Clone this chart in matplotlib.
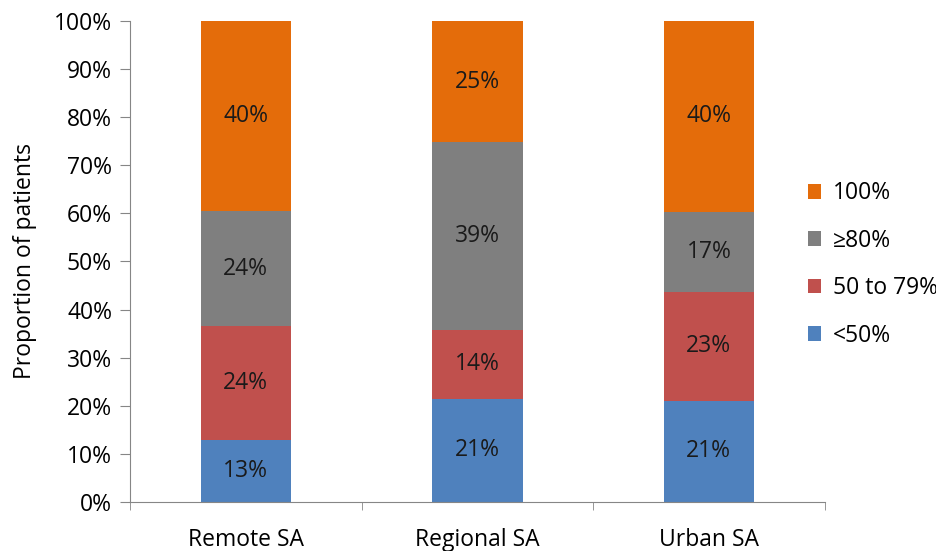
import numpy as np
import matplotlib.pyplot as plt
from matplotlib.patches import Patch

# Dados (percentual de pacientes)
categorias = ['Remote SA', 'Regional SA', 'Urban SA']
grupos = ['<50%', '50 to 79%', '\u226580%', '100%']
menor_50 = [12.9, 21.4, 21.0]
de_50_a_79 = [23.6, 14.4, 22.7]
maior_80 = [23.9, 39.0, 16.6]
cem = [39.6, 25.2, 39.7]
rotulos = [
    [13, 21, 21],
    [24, 14, 23],
    [24, 39, 17],
    [40, 25, 40],
]
cores = ['#4F81BD', '#C0504D', '#7F7F7F', '#E46C0A']

plt.rcParams['font.family'] = ['Open Sans', 'DejaVu Sans']
FS = 16.5

fig = plt.figure(figsize=(9.36, 5.51), dpi=100)
ax = fig.add_axes([0.139, 0.089, 0.742, 0.873])

x = np.arange(len(categorias))
base = np.zeros(len(categorias))
series = [menor_50, de_50_a_79, maior_80, cem]
for vals, cor, rot in zip(series, cores, rotulos):
    vals = np.array(vals)
    ax.bar(x, vals, bottom=base, width=0.39, color=cor, edgecolor='none')
    for xi, b, v, r in zip(x, base, vals, rot):
        ax.text(xi, b + v / 2, f'{r}%', ha='center', va='center', fontsize=FS, color='#1a1a1a')
    base = base + vals

ax.set_xlim(-0.5, 2.5)
ax.set_ylim(0, 100)
ax.set_yticks(np.arange(0, 101, 10))
ax.set_yticklabels([f'{v}%' for v in range(0, 101, 10)], fontsize=FS)
ax.set_xticks(x)
ax.set_xticklabels(categorias, fontsize=FS)
ax.tick_params(axis='x', length=0, pad=19)
ax.set_xticks([-0.5, 0.5, 1.5, 2.5], minor=True)
ax.tick_params(axis='x', which='minor', length=6, color='#868686')
ax.tick_params(axis='y', length=7, color='#868686', pad=6)
ax.set_ylabel('Proportion of patients', fontsize=FS, labelpad=12)

for lado in ['top', 'right']:
    ax.spines[lado].set_visible(False)
for lado in ['left', 'bottom']:
    ax.spines[lado].set_color('#868686')

handles = [Patch(facecolor=c, edgecolor='none') for c in cores][::-1]
fig.legend(handles, grupos[::-1], loc='center left', bbox_to_anchor=(0.853, 0.52),
           frameon=False, fontsize=FS, handlelength=0.6, handleheight=0.6,
           handletextpad=0.5, labelspacing=1.02, borderaxespad=0)

fig.savefig('out.png', dpi=100)
plt.close()
